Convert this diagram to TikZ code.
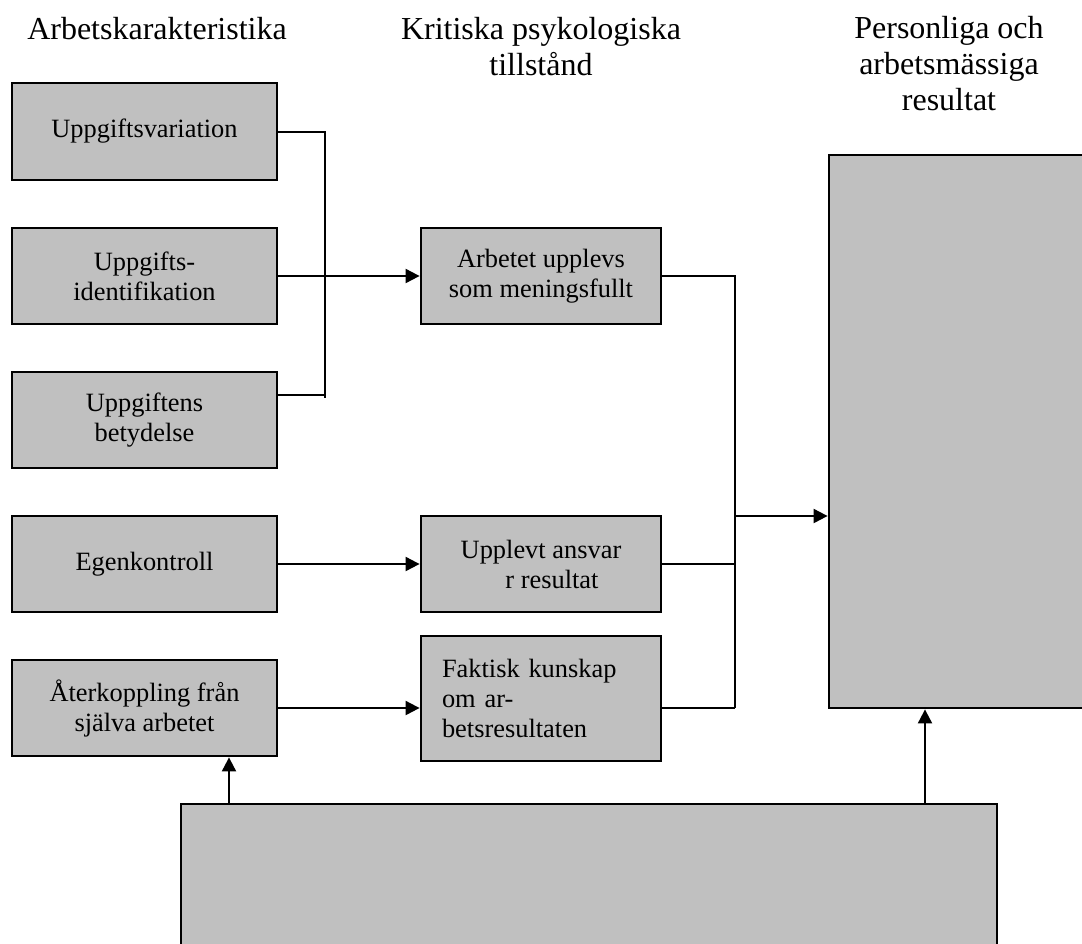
\documentclass[tikz,border=0pt]{standalone}
\usepackage{fontspec}
\setmainfont{Liberation Serif}
\usetikzlibrary{arrows.meta}
\definecolor{boxgray}{RGB}{192,192,192}
\tikzset{
    blk/.style={draw, line width=1.4pt, fill=boxgray, inner sep=0pt, align=center,
        minimum width=132.5pt, minimum height=48pt, font=\fontsize{13.2}{15}\selectfont},
    mid/.style={blk, minimum width=120pt},
    heading/.style={align=center, inner sep=0pt, anchor=north, font=\fontsize{16}{18}\selectfont},
    conn/.style={line width=1pt},
    arr/.style={conn, -{Triangle[length=7pt,width=7pt]}}
}
\begin{document}
\begin{tikzpicture}[x=0.5pt, y=-0.5pt]
    \useasboundingbox (0,0) rectangle (1082,943);
    %%Rubriker
    \node[heading] (h1) at (157,17) {Arbetskarakteristika};
    \node[heading] (h2) at (541,17) {Kritiska psykologiska\\tillstånd};
    \node[heading] (h3) at (949,16) {Personliga och\\arbetsmässiga\\resultat};
    %%Arbetskarakteristika
    \node[blk, minimum height=48.5pt] (uv) at (144.5,131.5) {Uppgiftsvariation};
    \node[blk] (ui) at (144.5,276) {Uppgifts-\\identifikation};
    \node[blk] (ub) at (144.5,420) {Uppgiftens\\betydelse};
    \node[blk] (ek) at (144.5,564) {Egenkontroll};
    \node[blk] (ak) at (144.5,708) {Återkoppling från\\själva arbetet};
    %%Tillstånd
    \node[mid] (am) at (541,276) {Arbetet upplevs\\som meningsfullt};
    \node[mid] (ua) at (541,564) {Upplevt ansvar\\\hspace*{11pt}r resultat};
    \node[mid, minimum height=62.5pt, align=left, text width=99pt] (fk) at (541,698.5)
        {Faktisk kunskap\\om ar-\\betsresultaten};
    %%Resultat och nedre ruta
    \node[blk, minimum width=135.5pt, minimum height=276.5pt] (res) at (964.5,431.5) {};
    \node[blk, minimum width=408pt, minimum height=93pt] (bot) at (589,897) {};
    %%Linjer och pilar
    \coordinate (jl) at (325,398);
    \coordinate (jb) at (325,395);
    \coordinate (jr) at (735,708);
    \coordinate (jm) at (735,516);
    \coordinate (fb) at (229,804);
    \coordinate (fr) at (925,804);
    \draw[conn] (uv.east) -| (jl);
    \draw[conn] (ub.east |- jb) -- (jb);
    \draw[arr] (ui.east) -- (am.west);
    \draw[arr] (ek.east) -- (ua.west);
    \draw[arr] (ak.east) -- (ak.east -| fk.west);
    \draw[conn] (am.east) -| (jr);
    \draw[conn] (ua.east) -- (ua.east -| jr);
    \draw[conn] (jr) -- (jr -| fk.east);
    \draw[arr] (jm) -- (jm -| res.west);
    \draw[arr] (fb) -- (fb |- ak.south);
    \draw[arr] (fr) -- (fr |- res.south);
\end{tikzpicture}
\end{document}
